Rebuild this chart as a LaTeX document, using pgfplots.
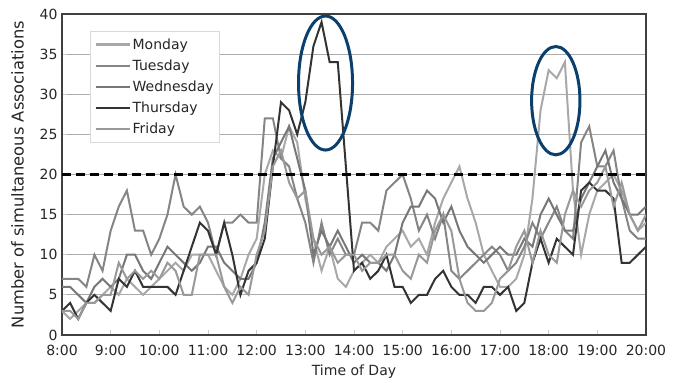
\documentclass[border=0pt]{standalone}
\usepackage{pgfplots}
\usepackage{pgfplotstable}
\pgfplotsset{compat=1.18}
\usepackage{fontspec}
\setmainfont{DejaVu Sans}
\definecolor{monc}{HTML}{A8A8A8}
\definecolor{tuec}{HTML}{858585}
\definecolor{wedc}{HTML}{777777}
\definecolor{thuc}{HTML}{333333}
\definecolor{fric}{HTML}{999999}
\definecolor{navyc}{HTML}{0B3F6E}
\pgfplotstableread{
Mon Tue Wed Thu Fri
3 7 6 3 3
2 7 6 4 3
3 7 5 2 2
4 6 4 4 4
4 10 6 5 4
5 8 7 4 5
6 13 6 3 5
5 16 7 7 9
7 18 10 6 7
6 13 10 8 8
5 13 8 6 7
6 10 7 6 8
7 12 9 6 7
8 15 11 6 9
9 20 10 5 8
8 16 9 8 5
10 15 8 11 5
10 16 9 14 10
10 14 11 13 10
8 10 11 10 10
6 14 9 14 6
5 14 8 10 4
7 15 7 5 6
10 14 7 8 5
12 14 9 9 10
20 27 14 12 13
23 27 22 21 21
22 22 24 29 23
26 21 26 28 19
24 17 22 25 17
17 14 18 29 18
12 9 10 36 12
8 14 13 39 10
11 10 11 34 11
7 12 13 34 9
6 10 11 21 10
8 10 9 8 10
9 14 10 9 8
10 14 9 7 9
9 13 9 8 9
11 18 8 10 10
12 19 10 6 10
13 20 14 6 8
11 17 16 4 7
12 13 16 5 10
10 15 18 5 9
14 12 17 7 13
17 15 14 8 15
19 8 16 6 13
21 7 13 5 7
17 8 11 5 4
14 9 10 4 3
10 10 9 6 3
8 11 10 6 4
6 10 11 5 7
6 8 10 6 8
7 9 10 3 11
10 11 12 4 13
17 14 11 9 9
28 12 15 12 13
33 14 17 9 10
32 16 15 12 9
34 13 13 11 15
18 12 13 10 18
10 24 17 18 16
15 26 19 19 18
18 21 21 18 19
19 21 23 18 21
20 23 19 17 16
18 17 17 9 19
15 13 15 9 15
13 12 15 10 13
14 12 16 11 15
}\data
\begin{document}
\begin{tikzpicture}[x=1pt,y=1pt]
\useasboundingbox (0,0) rectangle (681,383);
\begin{axis}[
  at={(62pt,48pt)}, anchor=south west,
  scale only axis, width=584pt, height=321pt,
  xmin=0, xmax=72, ymin=0, ymax=40,
  xtick={0,6,...,72},
  xticklabels={8:00,9:00,10:00,11:00,12:00,13:00,14:00,15:00,16:00,17:00,18:00,19:00,20:00},
  ytick={0,5,...,40},
  ymajorgrids, grid style={color=black!33, line width=1pt},
  tick style={color=black!20, line width=0.8pt}, major tick length=5pt,
  tick align=inside, xtick pos=bottom, ytick pos=left,
  axis line style={color=black!75, line width=1.6pt},
  /pgf/number format/assume math mode=true,
  tick label style={font=\fontsize{14}{16}\selectfont, color=black!85},
  xticklabel style={yshift=-7pt},
  yticklabel style={xshift=-1pt},
  label style={font=\fontsize{14}{16}\selectfont, color=black!85},
  xlabel={Time of Day}, ylabel={Number of simultaneous Associations},
  xlabel style={yshift=-2pt},
  ylabel style={yshift=9pt, font=\fontsize{16.3}{18}\selectfont},
  legend cell align=left,
  legend style={at={(axis description cs:0.048,0.947)}, anchor=north west,
    draw=black!15, fill=white, line width=0.8pt,
    font=\fontsize{14}{15}\selectfont, text=black!85,
    inner xsep=4pt, inner ysep=5pt, row sep=5pt},
  legend image code/.code={\draw[#1,line width=2.2pt] (0pt,0pt) -- (34pt,0pt);},
  every axis plot/.append style={line width=2pt, mark=none},
]
\addplot[monc] table[x expr=\coordindex, y=Mon] {\data};
\addlegendentry{Monday}
\addplot[tuec] table[x expr=\coordindex, y=Tue] {\data};
\addlegendentry{Tuesday}
\addplot[wedc] table[x expr=\coordindex, y=Wed] {\data};
\addlegendentry{Wednesday}
\addplot[thuc] table[x expr=\coordindex, y=Thu] {\data};
\addlegendentry{Thursday}
\addplot[fric] table[x expr=\coordindex, y=Fri] {\data};
\addlegendentry{Friday}
\addplot[black, line width=2.4pt, dash pattern=on 9pt off 5pt, forget plot] coordinates {(0,20) (72,20)};
\draw[navyc, line width=3pt] (axis cs:32.49,31.4) ellipse [x radius=3.33, y radius=8.35];
\draw[navyc, line width=3pt] (axis cs:60.88,29.2) ellipse [x radius=2.98, y radius=6.75];
\end{axis}
\end{tikzpicture}
\end{document}
